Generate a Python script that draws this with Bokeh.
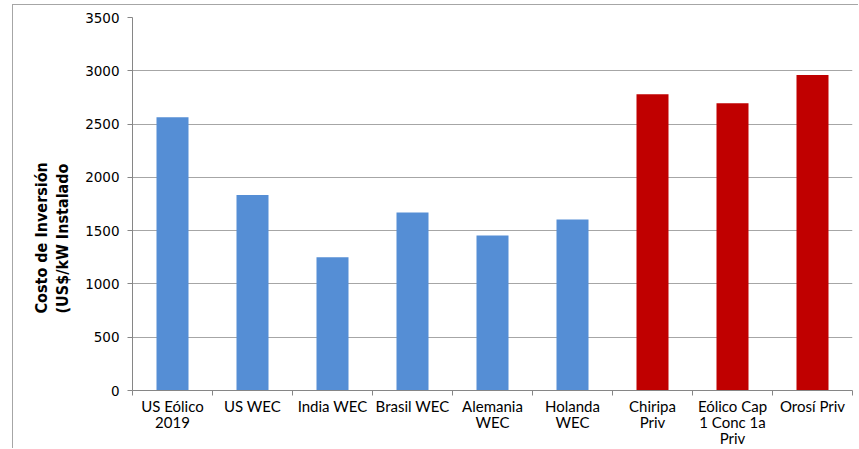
from bokeh.plotting import figure
from bokeh.models import Range1d, FixedTicker, Title
from bokeh.embed import file_html
from bokeh.resources import INLINE

# Investment cost per installed kW for wind projects
categories = [
    "US Eólico\n2019", "US WEC", "India WEC", "Brasil WEC", "Alemania\nWEC",
    "Holanda\nWEC", "Chiripa\nPriv", "Eólico Cap\n1 Conc 1a\nPriv", "Orosí Priv",
]
costs = [2565, 1835, 1250, 1670, 1455, 1605, 2780, 2695, 2960]
groups = ["ref", "ref", "ref", "ref", "ref", "ref", "priv", "priv", "priv"]
y_ticks = [0, 500, 1000, 1500, 2000, 2500, 3000, 3500]

palette = {"ref": "#558ED5", "priv": "#C00000"}
centers = [i + 0.5 for i in range(len(categories))]
bounds = list(range(len(categories) + 1))
colors = [palette[g] for g in groups]

p = figure(
    width=846, height=444,
    x_range=Range1d(0, len(categories)), y_range=Range1d(0, 3500),
    output_backend="svg", toolbar_location=None,
    min_border_left=119, min_border_top=12, min_border_right=7, min_border_bottom=59,
)
p.styles = {
    "margin-left": "12px", "margin-top": "4px",
    "border-left": "1px solid #a6a6a6", "border-top": "1px solid #a6a6a6",
}
p.outline_line_color = None
p.background_fill_color = "white"
p.border_fill_color = "white"

p.vbar(x=centers, top=costs, width=0.4, color=colors, line_color=None)

# y axis
p.yaxis.ticker = FixedTicker(ticks=y_ticks)
p.yaxis.axis_line_color = "#868686"
p.yaxis.major_tick_line_color = "#868686"
p.yaxis.major_tick_out = 5
p.yaxis.major_tick_in = 0
p.yaxis.minor_tick_line_color = None
p.yaxis.major_label_text_font = "DejaVu Sans"
p.yaxis.major_label_text_font_size = "13.5px"
p.yaxis.major_label_text_color = "#000000"
p.yaxis.major_label_standoff = 8

# x axis: labels at category centres, ticks at category boundaries
p.xaxis.ticker = FixedTicker(ticks=centers, minor_ticks=bounds)
p.xaxis.major_label_overrides = {c: lab for c, lab in zip(centers, categories)}
p.xaxis.axis_line_color = "#868686"
p.xaxis.major_tick_line_color = None
p.xaxis.major_tick_out = 0
p.xaxis.major_tick_in = 0
p.xaxis.minor_tick_line_color = "#868686"
p.xaxis.minor_tick_out = 5
p.xaxis.minor_tick_in = 0
p.xaxis.major_label_text_font = "Lato"
p.xaxis.major_label_text_font_size = "15px"
p.xaxis.major_label_text_line_height = 0.9
p.xaxis.major_label_text_color = "#000000"
p.xaxis.major_label_standoff = 1

p.xgrid.grid_line_color = None
p.ygrid.ticker = FixedTicker(ticks=y_ticks)
p.ygrid.grid_line_color = "#a6a6a6"

ytitle = Title(
    text="Costo de Inversión\n(US$/kW Instalado",
    align="left", offset=77, standoff=20,
    text_font="DejaVu Sans Condensed", text_font_style="bold",
    text_font_size="16px", text_color="#000000", text_line_height=1.15,
)
p.add_layout(ytitle, "left")

open("out.html", "w").write(file_html(p, INLINE))
